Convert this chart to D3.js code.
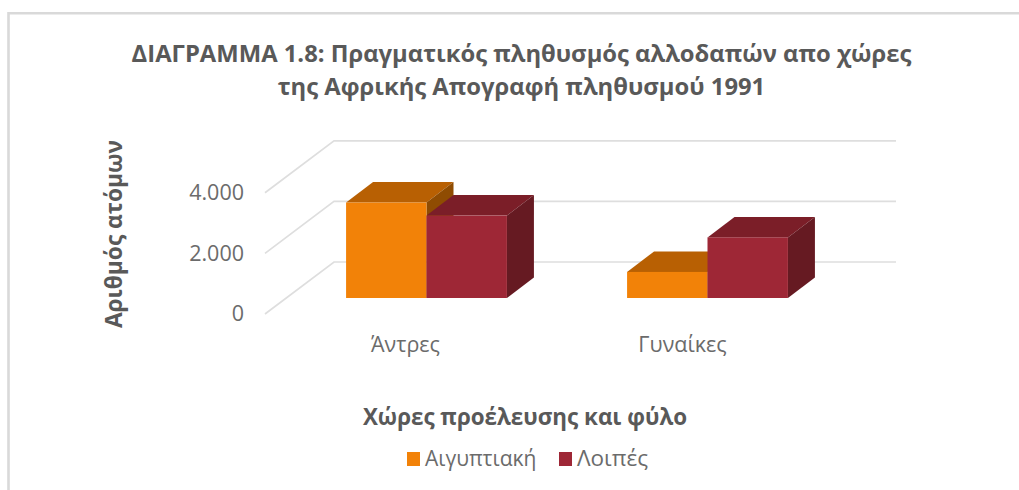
<!DOCTYPE html>
<html>
<head>
<meta charset="utf-8">
<script src="https://cdn.jsdelivr.net/npm/d3@7"></script>
<style>
html, body { margin: 0; padding: 0; background: #fff; overflow: hidden; }
svg { display: block; font-family: "Open Sans", sans-serif; }
</style>
</head>
<body>
<div id="chart"></div>
<script>
var categories = ["Άντρες", "Γυναίκες"];
var seriesNames = ["Αιγυπτιακή", "Λοιπές"];
var aigyptiaki = [3150, 860];
var loipes = [2720, 2000];
var yTicks = [0, 2000, 4000];
var titleLines = ["ΔΙΑΓΡΑΜΜΑ 1.8: Πραγματικός πληθυσμός αλλοδαπών απο χώρες", "της Αφρικής Απογραφή πληθυσμού 1991"];
var xTitle = "Χώρες προέλευσης και φύλο";
var yTitle = "Αριθμός ατόμων";

var colors = [
    {front: "#f28208", top: "#b86003", side: "#8f4c02"},
    {front: "#9e2736", top: "#7b1e28", side: "#661a22"}
];

var width = 1019, height = 490;
var floorLeft = 265, floorRight = 827, floorFront = 314;
var wallDx = 69, wallDy = -52;      // depth of the whole floor
var barDx = 27, barDy = -20.5;      // depth of one bar
var barInsetX = 21, barInsetY = -16;
var unitPx = 121.2;                 // px for 4000
var catLabelShift = [0, -4];

var svg = d3.select("#chart").append("svg")
    .attr("width", width)
    .attr("height", height);

// chart frame, only top and left are in the crop
svg.append("path")
    .attr("d", d3.line()([[width, 13.2], [8.5, 13.2], [8.5, height]]))
    .attr("fill", "none")
    .attr("stroke", "#d9d9d9")
    .attr("stroke-width", 2.6);

var y = d3.scaleLinear().domain([0, 4000]).range([floorFront, floorFront - unitPx]);
var x0 = d3.scaleBand().domain(categories).range([floorLeft, floorRight]);
var x1 = d3.scaleBand().domain(seriesNames).range([0, x0.bandwidth()]).paddingOuter(0.747).paddingInner(0);

// gridlines: diagonal on the side wall then along the back wall
svg.append("g").selectAll("path")
    .data(yTicks)
    .enter()
    .append("path")
    .attr("d", function (d) {
        return d3.line()([
            [floorLeft, y(d)],
            [floorLeft + wallDx, y(d) + wallDy],
            [floorRight + wallDx, y(d) + wallDy]
        ]);
    })
    .attr("fill", "none")
    .attr("stroke", "#dedede")
    .attr("stroke-width", 1.7);

// y axis labels
var yAxis = svg.append("g")
    .attr("transform", "translate(252,0)")
    .call(d3.axisLeft(y).tickValues(yTicks).tickSize(0).tickFormat(function (d) {
        return d3.format(",")(d).replace(",", ".");
    }));
yAxis.select(".domain").remove();
yAxis.selectAll("text")
    .attr("x", -8)
    .attr("dy", "0.32em")
    .style("font-family", "'Open Sans', sans-serif")
    .style("font-size", "21.5px")
    .attr("fill", "#6b6b6b");

// bars, flatten to a list and paint left to right
var bars = [];
categories.forEach(function (c, i) {
    bars.push({cat: c, name: seriesNames[0], value: aigyptiaki[i], color: colors[0]});
    bars.push({cat: c, name: seriesNames[1], value: loipes[i], color: colors[1]});
});

function barX(d) { return x0(d.cat) + x1(d.name) + barInsetX; }
function barW() { return x1.bandwidth(); }
function barTop(d) { return y(d.value) + barInsetY; }
var barBase = y(0) + barInsetY;

var g = svg.append("g").selectAll("g")
    .data(bars)
    .enter()
    .append("g");

g.append("path")
    .attr("d", function (d) {
        var l = barX(d), r = l + barW(), t = barTop(d);
        return d3.line()([[l, t], [r, t], [r + barDx, t + barDy], [l + barDx, t + barDy]]) + "Z";
    })
    .attr("fill", function (d) { return d.color.top; });

g.append("path")
    .attr("d", function (d) {
        var r = barX(d) + barW(), t = barTop(d);
        return d3.line()([[r, t], [r + barDx, t + barDy], [r + barDx, barBase + barDy], [r, barBase]]) + "Z";
    })
    .attr("fill", function (d) { return d.color.side; });

g.append("rect")
    .attr("x", barX)
    .attr("y", barTop)
    .attr("width", barW)
    .attr("height", function (d) { return barBase - barTop(d); })
    .attr("fill", function (d) { return d.color.front; });

// category labels
svg.append("g").selectAll("text")
    .data(categories)
    .enter()
    .append("text")
    .attr("x", function (d, i) { return x0(d) + x0.bandwidth() / 2 + catLabelShift[i]; })
    .attr("y", 352)
    .attr("font-size", 21.5)
    .attr("fill", "#6b6b6b")
    .attr("text-anchor", "middle")
    .text(function (d) { return d; });

// title
svg.append("g").selectAll("text")
    .data(titleLines)
    .enter()
    .append("text")
    .attr("x", 521.5)
    .attr("y", function (d, i) { return 62 + i * 33; })
    .attr("text-anchor", "middle")
    .attr("font-size", 23.8)
    .attr("font-weight", "bold")
    .attr("fill", "#595959")
    .text(function (d) { return d; });

svg.append("text")
    .attr("x", 525)
    .attr("y", 425)
    .attr("text-anchor", "middle")
    .attr("font-size", 22.4)
    .attr("font-weight", "bold")
    .attr("fill", "#595959")
    .text(xTitle);

svg.append("text")
    .attr("transform", "translate(122,234) rotate(-90)")
    .attr("text-anchor", "middle")
    .attr("font-size", 22.7)
    .attr("font-weight", "bold")
    .attr("fill", "#595959")
    .text(yTitle);

// legend
var legendX = [407, 559];
var legendFont = [21, 22.5];
var legend = svg.append("g").selectAll("g")
    .data(seriesNames)
    .enter()
    .append("g")
    .attr("transform", function (d, i) { return "translate(" + legendX[i] + ",452)"; });
legend.append("rect")
    .attr("width", 13)
    .attr("height", 14)
    .attr("fill", function (d, i) { return colors[i].front; });
legend.append("text")
    .attr("x", 18)
    .attr("y", 14)
    .attr("font-size", function (d, i) { return legendFont[i]; })
    .attr("fill", "#6b6b6b")
    .text(function (d) { return d; });
</script>
</body>
</html>
